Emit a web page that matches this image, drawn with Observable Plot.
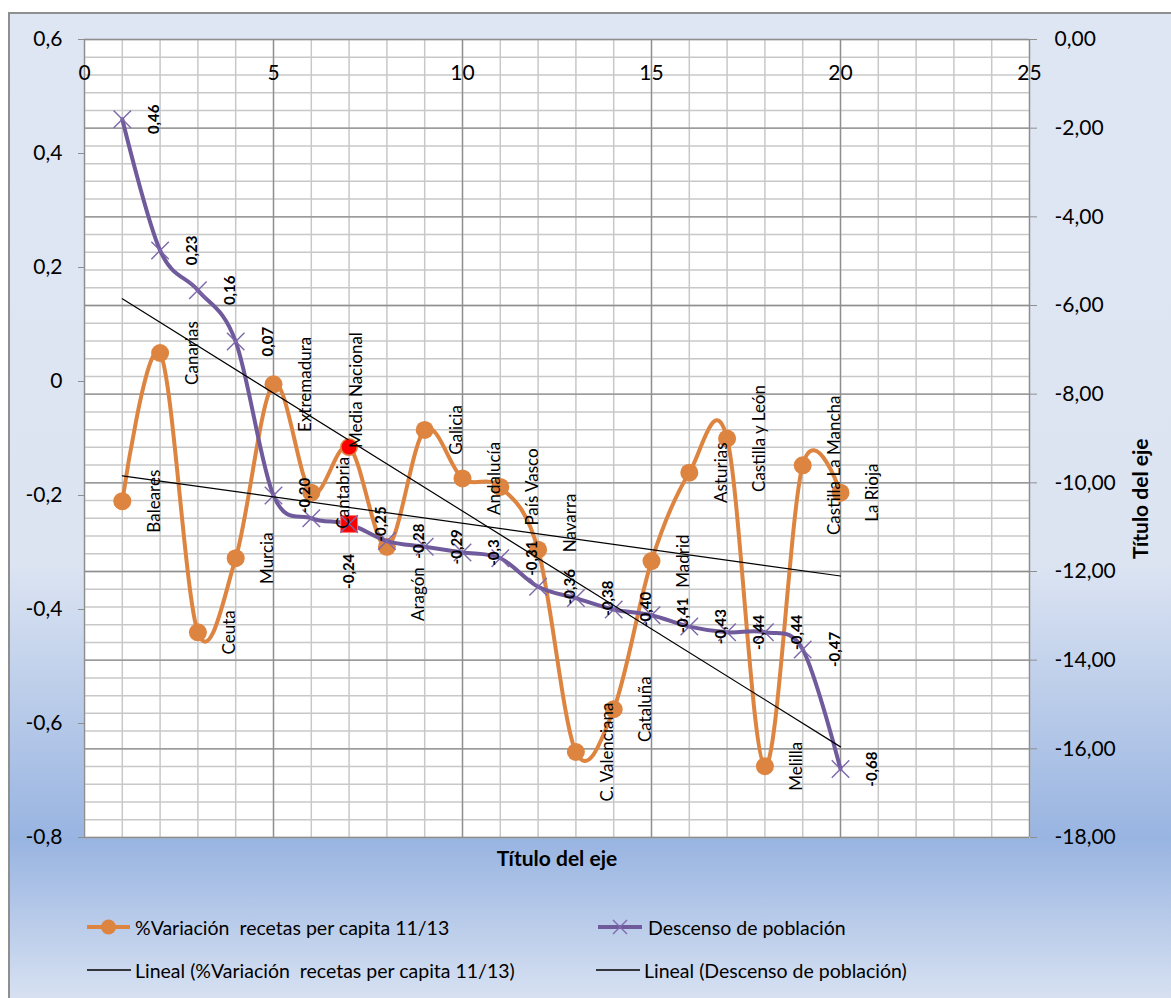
<!DOCTYPE html>
<html>
<head>
<meta charset="utf-8">
<script src="https://cdn.jsdelivr.net/npm/d3@7"></script>
<script src="https://cdn.jsdelivr.net/npm/@observablehq/plot@0.6"></script>
<style>
  body { margin: 0; background: #fff; font-family: Lato, "Open Sans", sans-serif; }
  #wrap { position: relative; width: 1171px; height: 998px; overflow: hidden; background: #fff; }
  #bg { position: absolute; left: 8px; top: 12px; width: 1200px; height: 1000px;
        border-left: 2px solid #8f8f8f; border-top: 2px solid #8f8f8f;
        background: linear-gradient(to bottom, #dfe6f3 0%, #dce4f2 55%, #98b4e1 82.5%, #dde5f3 100%); }
  #plot { position: absolute; left: 0; top: 0; }
  .leg { position: absolute; display: flex; align-items: center; height: 26px; font-size: 19.5px; color: #000; white-space: pre; }
  .leg svg { display: block; }
</style>
</head>
<body>
<div id="wrap">
  <div id="bg"></div>
  <div id="plot"></div>
  <div id="legend"></div>
</div>
<script>
// ---------- data ----------
const regions = ["Baleares", "Canarias", "Ceuta", "Murcia", "Extremadura", "Cantabria", "Media Nacional",
  "Aragón", "Galicia", "Andalucía", "País Vasco", "Navarra", "C. Valenciana", "Cataluña", "Madrid",
  "Asturias", "Castilla y León", "Melilla", "Castilla La Mancha", "La Rioja"];
const position = [1, 2, 3, 4, 5, 6, 7, 8, 9, 10, 11, 12, 13, 14, 15, 16, 17, 18, 19, 20];
// %Variación recetas per capita 11/13
const variacion = [-0.21, 0.05, -0.44, -0.31, -0.005, -0.195, -0.115, -0.29, -0.085, -0.17,
  -0.185, -0.295, -0.65, -0.575, -0.315, -0.16, -0.1, -0.675, -0.147, -0.195];
// Descenso de población
const descenso = [0.46, 0.23, 0.16, 0.07, -0.20, -0.24, -0.25, -0.28, -0.29, -0.30,
  -0.31, -0.36, -0.38, -0.40, -0.41, -0.43, -0.44, -0.44, -0.47, -0.68];
const descensoLabels = ["0,46", "0,23", "0,16", "0,07", "-0,20", "-0,24", "-0,25", "-0,28", "-0,29", "-0,3",
  "-0,31", "-0,36", "-0,38", "-0,40", "-0,41", "-0,43", "-0,44", "-0,44", "-0,47", "-0,68"];
const highlight = "Media Nacional";

const xTicks = [0, 5, 10, 15, 20, 25];
const leftTicks = [0.6, 0.4, 0.2, 0, -0.2, -0.4, -0.6, -0.8];
const leftTickLabels = ["0,6", "0,4", "0,2", "0", "-0,2", "-0,4", "-0,6", "-0,8"];
const rightTicks = [0, -2, -4, -6, -8, -10, -12, -14, -16, -18];
const rightTickLabels = ["0,00", "-2,00", "-4,00", "-6,00", "-8,00", "-10,00", "-12,00", "-14,00", "-16,00", "-18,00"];

// label nudges (data units) for labels moved by hand in the original
const regionNudge = {"Media Nacional": [-0.65, 0.10], "Aragón": [0, -0.083], "Navarra": [0, 0.047]};
const valueNudge = {"Cantabria": [0.15, -0.093]};

// ---------- helpers ----------
const yDomain = [-0.8, 0.6];
const rDomain = [-18, 0];
const toLeft = r => yDomain[0] + (r - rDomain[0]) * (yDomain[1] - yDomain[0]) / (rDomain[1] - rDomain[0]);
const rightPos = rightTicks.map(toLeft);
const minorY = d3.range(0, 46).map(i => toLeft(-0.4 * i));
const minorX = d3.range(0, 26);

const rows = regions.map((r, i) => ({region: r, x: position[i], v: variacion[i], d: descenso[i], dl: descensoLabels[i]}));
const hl = rows.filter(d => d.region === highlight);

const ORANGE = "#dd8440", PURPLE = "#6f5a9b", PURPLE_M = "#7e67ab";

const chart = Plot.plot({
  width: 1171, height: 880,
  marginLeft: 84, marginRight: 142, marginTop: 39, marginBottom: 43,
  x: {domain: [0, 25]},
  y: {domain: yDomain},
  style: {background: "transparent", fontFamily: "Lato, 'Open Sans', sans-serif", fontSize: "21px", color: "#000", overflow: "visible"},
  marks: [
    Plot.frame({fill: "white"}),
    Plot.ruleY(minorY, {stroke: "#c8c8c8", strokeWidth: 1.5}),
    Plot.ruleX(minorX, {stroke: "#c8c8c8", strokeWidth: 1.5}),
    Plot.ruleY(rightPos, {stroke: "#8e8e8e", strokeWidth: 1.3}),
    Plot.ruleX(xTicks, {stroke: "#8e8e8e", strokeWidth: 1.3}),
    Plot.axisY({anchor: "left", ticks: leftTicks, tickFormat: d => leftTickLabels[leftTicks.indexOf(d)],
      tickSize: 6, tickPadding: 16, stroke: "#8e8e8e", fill: "#000", label: null, fontSize: 21}),
    Plot.axisY({anchor: "right", ticks: rightPos, tickFormat: d => rightTickLabels[rightPos.indexOf(d)],
      tickSize: 7, tickPadding: 18, stroke: "#8e8e8e", fill: "#000", label: null, fontSize: 21}),
    Plot.axisX({anchor: "top", ticks: xTicks, tickFormat: d => String(d), tickSize: 0, tickPadding: -40,
      fill: "#000", label: null, fontSize: 21}),
    // series
    Plot.line(rows, {x: "x", y: "v", stroke: ORANGE, strokeWidth: 4, curve: "cardinal", tension: 0}),
    Plot.dot(rows, {x: "x", y: "v", r: 9, fill: ORANGE}),
    Plot.line(rows, {x: "x", y: "d", stroke: PURPLE, strokeWidth: 4, curve: "cardinal", tension: 0}),
    Plot.dot(rows, {x: "x", y: "d", symbol: "times", r: 8, stroke: PURPLE_M, strokeWidth: 1.4}),
    // trend lines
    Plot.linearRegressionY(rows, {x: "x", y: "v", stroke: "#000", strokeWidth: 1.2, ci: 0}),
    Plot.linearRegressionY(rows, {x: "x", y: "d", stroke: "#000", strokeWidth: 1.2, ci: 0}),
    // highlighted national average
    Plot.dot(hl, {x: "x", y: "v", r: 7.5, fill: "#ff0000"}),
    Plot.dot(hl, {x: "x", y: "d", symbol: "square", r: 9.5, fill: "#ff0000", stroke: "#ff7a7a", strokeWidth: 1}),
    Plot.dot(hl, {x: "x", y: "d", symbol: "times", r: 8, stroke: PURPLE_M, strokeWidth: 1.2}),
    // labels
    Plot.text(rows, {
      x: d => d.x + 0.85 + (regionNudge[d.region] ? regionNudge[d.region][0] : 0),
      y: d => d.v + (regionNudge[d.region] ? regionNudge[d.region][1] : 0),
      text: "region", rotate: -90, fontSize: 17, fill: "#000", textAnchor: "middle", lineAnchor: "middle"
    }),
    Plot.text(rows, {
      x: d => d.x + 0.85 + (valueNudge[d.region] ? valueNudge[d.region][0] : 0),
      y: d => d.d + (valueNudge[d.region] ? valueNudge[d.region][1] : 0),
      text: "dl", rotate: -90, fontSize: 15, fontWeight: "bold", fill: "#000", textAnchor: "middle", lineAnchor: "middle"
    }),
    // axis titles
    Plot.text(["Título del eje"], {frameAnchor: "bottom", dy: 28, text: d => d, fontSize: 21, fontWeight: "bold", fill: "#000"}),
    Plot.text(["Título del eje"], {frameAnchor: "right", dx: 112, text: d => d, rotate: -90, fontSize: 21, fontWeight: "bold", fill: "#000"})
  ]
});
document.getElementById("plot").appendChild(chart);

// ---------- legend ----------
const legendItems = [
  {label: "%Variación  recetas per capita 11/13", kind: "orange", left: 87, top: 927},
  {label: "Descenso de población", kind: "purple", left: 598, top: 927},
  {label: "Lineal (%Variación  recetas per capita 11/13)", kind: "trend", left: 87, top: 970},
  {label: "Lineal (Descenso de población)", kind: "trend", left: 596, top: 970}
];
const legend = document.getElementById("legend");
for (const it of legendItems) {
  const div = document.createElement("div");
  div.className = "leg";
  div.style.left = it.left + "px";
  div.style.top = (it.top - 13) + "px";
  let sw = "";
  if (it.kind === "orange") {
    sw = `<svg width="48" height="26"><line x1="0" y1="13" x2="43" y2="13" stroke="${ORANGE}" stroke-width="4"/><circle cx="21.5" cy="13" r="7.5" fill="${ORANGE}"/></svg>`;
  } else if (it.kind === "purple") {
    sw = `<svg width="50" height="26"><line x1="0" y1="13" x2="44" y2="13" stroke="${PURPLE}" stroke-width="4"/><path d="M15,6L29,20M29,6L15,20" stroke="${PURPLE_M}" stroke-width="1.4"/></svg>`;
  } else {
    sw = `<svg width="48" height="26"><line x1="0" y1="13" x2="44" y2="13" stroke="#000" stroke-width="1.3"/></svg>`;
  }
  div.innerHTML = sw + `<span>${it.label}</span>`;
  legend.appendChild(div);
}
</script>
</body>
</html>
